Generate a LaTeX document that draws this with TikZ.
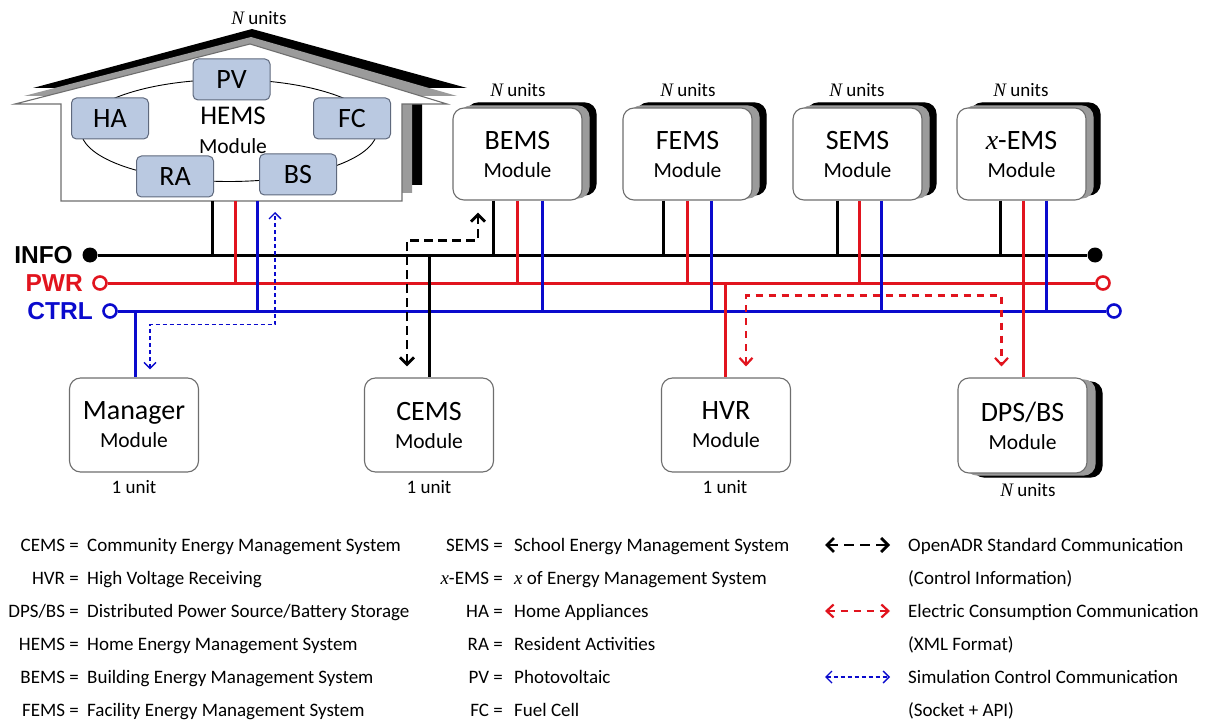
\documentclass[tikz,border=0pt]{standalone}
\usepackage{fontspec}
\setmainfont{Carlito}
\newfontfamily\tms{Liberation Serif}
\newfontfamily\arialb{Liberation Sans}
\usetikzlibrary{arrows.meta,shadows}
\definecolor{pwrred}{RGB}{225,20,30}
\definecolor{ctrlblue}{RGB}{10,10,205}
\definecolor{boxgray}{RGB}{110,110,110}
\definecolor{shadowgray}{RGB}{155,155,155}
\definecolor{subfill}{RGB}{186,201,225}
\definecolor{subdraw}{RGB}{95,105,125}
\newcommand{\bigname}{\fontsize{28}{28}\selectfont}
\tikzset{
  modbox/.style={draw=boxgray, line width=1.1pt, fill=white, rounded corners=11pt,
    minimum width=129pt, minimum height=92pt, align=center, inner sep=0pt,
    font=\fontsize{21.5}{28}\selectfont},
  stacktop/.style={general shadow={shadow xshift=14pt, shadow yshift=5pt, fill=black, draw=black},
    general shadow={shadow xshift=7pt, shadow yshift=2pt, fill=shadowgray, draw=shadowgray}},
  stackbottom/.style={general shadow={shadow xshift=15pt, shadow yshift=-4pt, fill=black, draw=black},
    general shadow={shadow xshift=8pt, shadow yshift=-2pt, fill=shadowgray, draw=shadowgray}},
  subbox/.style={draw=subdraw, line width=1pt, fill=subfill, rounded corners=5pt,
    minimum width=77pt, minimum height=41pt, inner sep=0pt, font=\fontsize{28}{30}\selectfont},
  unitlbl/.style={font=\fontsize{19}{22}\selectfont, inner sep=0pt},
  buslbl/.style={font=\arialb\bfseries\fontsize{24.5}{26}\selectfont, inner sep=0pt},
  dotend/.style={circle, fill=black, minimum size=15pt, inner sep=0pt},
  ringend/.style={circle, draw=#1, line width=2.6pt, fill=white, minimum size=13pt, inner sep=0pt},
  infow/.style={line width=3pt, black},
  pwrw/.style={line width=3pt, pwrred},
  ctrlw/.style={line width=3pt, ctrlblue},
  openadr/.style={line width=2.8pt, black, dash pattern=on 9pt off 5pt,
    {Straight Barb[length=7pt,width=14pt,line width=2.8pt]}-{Straight Barb[length=7pt,width=14pt,line width=2.8pt]}},
  elec/.style={line width=2.4pt, pwrred, dash pattern=on 7pt off 6pt,
    {Straight Barb[length=7pt,width=13pt,line width=2.2pt]}-{Straight Barb[length=7pt,width=13pt,line width=2.2pt]}},
  simul/.style={line width=1.4pt, ctrlblue, dash pattern=on 4pt off 3pt,
    {Straight Barb[length=6pt,width=12pt,line width=1.4pt]}-{Straight Barb[length=6pt,width=12pt,line width=1.4pt]}},
  legtxt/.style={font=\fontsize{19}{22}\selectfont, inner sep=0pt},
}
\begin{document}
\begin{tikzpicture}[x=1pt,y=-1pt]
\useasboundingbox (0,0) rectangle (1210,722);

% ---------- house (HEMS) ----------
\fill[black] (81,185) -- (81,88) -- (33,88) -- (252,29) -- (467,88) -- (422,88) -- (422,185) -- cycle;
\fill[shadowgray] (71,193) -- (71,96) -- (24,96) -- (251,37) -- (457,96) -- (412,96) -- (412,193) -- cycle;
\draw[boxgray, line width=1.1pt, fill=white] (61,201) -- (61,104) -- (15,104) -- (250,44) -- (447,104) -- (402,104) -- (402,201) -- cycle;
\coordinate (hemsbase) at (231.5,201);
\draw[line width=0.9pt] (229,130.5) ellipse [x radius=148pt, y radius=51pt];
\node[subbox] (pv) at (231.5,79.5) {PV};
\node[subbox] (ha) at (110,118.5) {HA};
\node[subbox] (fc) at (352,118.5) {FC};
\node[subbox] (ra) at (175,176.5) {RA};
\node[subbox] (bs) at (298,174.5) {BS};
\node[align=center, inner sep=0pt, font=\fontsize{21.5}{29}\selectfont] (hems) at (233,130) {{\fontsize{27}{27}\selectfont HEMS}\\Module};
\node[unitlbl] at (259,18) {{\tms\itshape N} units};

% ---------- top modules ----------
\node[modbox, stacktop] (bems) at (517.5,154) {{\bigname BEMS}\\Module};
\node[modbox, stacktop] (fems) at (687.5,154) {{\bigname FEMS}\\Module};
\node[modbox, stacktop] (sems) at (857.5,154) {{\bigname SEMS}\\Module};
\node[modbox, stacktop] (xems) at (1021.5,154) {{\bigname{\tms\itshape x}-EMS}\\Module};
\node[unitlbl] at (518,90) {{\tms\itshape N} units};
\node[unitlbl] at (688,90) {{\tms\itshape N} units};
\node[unitlbl] at (857,90) {{\tms\itshape N} units};
\node[unitlbl] at (1021,90) {{\tms\itshape N} units};

% ---------- bottom modules ----------
\node[modbox, minimum height=94pt] (manager) at (134,425) {{\bigname Manager}\\Module};
\node[modbox, minimum height=94pt] (cems) at (429,425) {{\bigname CEMS}\\Module};
\node[modbox, minimum height=94pt] (hvr) at (726,425) {{\bigname HVR}\\Module};
\node[modbox, minimum height=95pt, stackbottom] (dps) at (1022.5,425.5) {{\bigname DPS/BS}\\Module};
\node[unitlbl] at (134,487) {1 unit};
\node[unitlbl] at (429,487) {1 unit};
\node[unitlbl] at (725,487) {1 unit};
\node[unitlbl] at (1028,490) {{\tms\itshape N} units};

% ---------- buses ----------
\node[dotend] (infoL) at (90,255) {};
\node[dotend] (infoR) at (1095,255) {};
\node[ringend=pwrred] (pwrL) at (100,283) {};
\node[ringend=pwrred] (pwrR) at (1103,283) {};
\node[ringend=ctrlblue] (ctrlL) at (110,311) {};
\node[ringend=ctrlblue] (ctrlR) at (1114,311) {};
\node[buslbl, anchor=base east] at (73,263.5) {INFO};
\node[buslbl, anchor=base east, text=pwrred] at (83,291.5) {PWR};
\node[buslbl, anchor=base east, text=ctrlblue] at (93,319.5) {CTRL};
\draw[infow] (infoL) -- (infoR);
\draw[pwrw] (pwrL) -- (pwrR);
\draw[ctrlw] (ctrlL) -- (ctrlR);

% ---------- drops ----------
\draw[infow] ([xshift=-19.5pt]hemsbase) -- ([xshift=-19.5pt]hemsbase |- infoL.center);
\draw[pwrw]  ([xshift=3.5pt]hemsbase) -- ([xshift=3.5pt]hemsbase |- pwrL.center);
\draw[ctrlw] ([xshift=25.5pt]hemsbase) -- ([xshift=25.5pt]hemsbase |- ctrlL.center);
\foreach \m/\a/\b/\c in {bems/-24.5/0/24.5, fems/-24.5/0/23.5, sems/-20.5/1.5/23.5, xems/-21.5/1.5/24.5}{
  \draw[infow] ([xshift=\a pt]\m.south) -- ([xshift=\a pt]\m.south |- infoL.center);
  \draw[ctrlw] ([xshift=\c pt]\m.south) -- ([xshift=\c pt]\m.south |- ctrlL.center);
}
\foreach \m/\b in {bems/0, fems/0, sems/1.5}{
  \draw[pwrw] ([xshift=\b pt]\m.south) -- ([xshift=\b pt]\m.south |- pwrL.center);
}
\draw[pwrw] ([xshift=1.5pt]xems.south) -- ([xshift=0.5pt]dps.north);
\draw[infow] (cems.north |- infoL.center) -- (cems.north);
\draw[ctrlw] ([xshift=1pt]manager.north |- ctrlL.center) -- ([xshift=1pt]manager.north);
\draw[pwrw] ([xshift=-1pt]hvr.north |- pwrL.center) -- ([xshift=-1pt]hvr.north);

% ---------- communications ----------
\draw[openadr, shorten <=11pt, shorten >=12pt] ([xshift=-22pt]cems.north) -- ++(0,-137) -| ([xshift=-39.5pt]bems.south);
\draw[elec, shorten <=11pt, shorten >=11pt] ([xshift=20pt]hvr.north) -- ++(0,-82) -| ([xshift=-21pt]dps.north);
\draw[simul, shorten <=8pt, shorten >=11pt] ([xshift=16pt]manager.north) -- ++(0,-53) -| ([xshift=43.5pt]hemsbase);

% ---------- legend ----------
\node[legtxt, anchor=base east] at (79,551) {CEMS =};
\node[legtxt, anchor=base west] at (87,551) {Community Energy Management System};
\node[legtxt, anchor=base east] at (79,584) {HVR =};
\node[legtxt, anchor=base west] at (87,584) {High Voltage Receiving};
\node[legtxt, anchor=base east] at (79,617) {DPS/BS =};
\node[legtxt, anchor=base west] at (87,617) {Distributed Power Source/Battery Storage};
\node[legtxt, anchor=base east] at (79,650) {HEMS =};
\node[legtxt, anchor=base west] at (87,650) {Home Energy Management System};
\node[legtxt, anchor=base east] at (79,683) {BEMS =};
\node[legtxt, anchor=base west] at (87,683) {Building Energy Management System};
\node[legtxt, anchor=base east] at (79,716) {FEMS =};
\node[legtxt, anchor=base west] at (87,716) {Facility Energy Management System};

\node[legtxt, anchor=base east] at (503,551) {SEMS =};
\node[legtxt, anchor=base west] at (514,551) {School Energy Management System};
\node[legtxt, anchor=base east] at (503,584) {{\tms\itshape x}-EMS =};
\node[legtxt, anchor=base west] at (514,584) {{\tms\itshape x} of Energy Management System};
\node[legtxt, anchor=base east] at (503,617) {HA =};
\node[legtxt, anchor=base west] at (514,617) {Home Appliances};
\node[legtxt, anchor=base east] at (503,650) {RA =};
\node[legtxt, anchor=base west] at (514,650) {Resident Activities};
\node[legtxt, anchor=base east] at (503,683) {PV =};
\node[legtxt, anchor=base west] at (514,683) {Photovoltaic};
\node[legtxt, anchor=base east] at (503,716) {FC =};
\node[legtxt, anchor=base west] at (514,716) {Fuel Cell};

\coordinate (la1) at (825,545); \coordinate (la2) at (890,545);
\coordinate (lb1) at (825,611); \coordinate (lb2) at (890,611);
\coordinate (lc1) at (825,677); \coordinate (lc2) at (890,677);
\draw[openadr, dash pattern=on 10pt off 6pt] (la1) -- (la2);
\draw[elec] (lb1) -- (lb2);
\draw[simul] (lc1) -- (lc2);
\node[legtxt, anchor=base west] at (908,551) {OpenADR Standard Communication};
\node[legtxt, anchor=base west] at (908,584) {(Control Information)};
\node[legtxt, anchor=base west] at (908,617) {Electric Consumption Communication};
\node[legtxt, anchor=base west] at (908,650) {(XML Format)};
\node[legtxt, anchor=base west] at (908,683) {Simulation Control Communication};
\node[legtxt, anchor=base west] at (908,716) {(Socket + API)};
\end{tikzpicture}
\end{document}
